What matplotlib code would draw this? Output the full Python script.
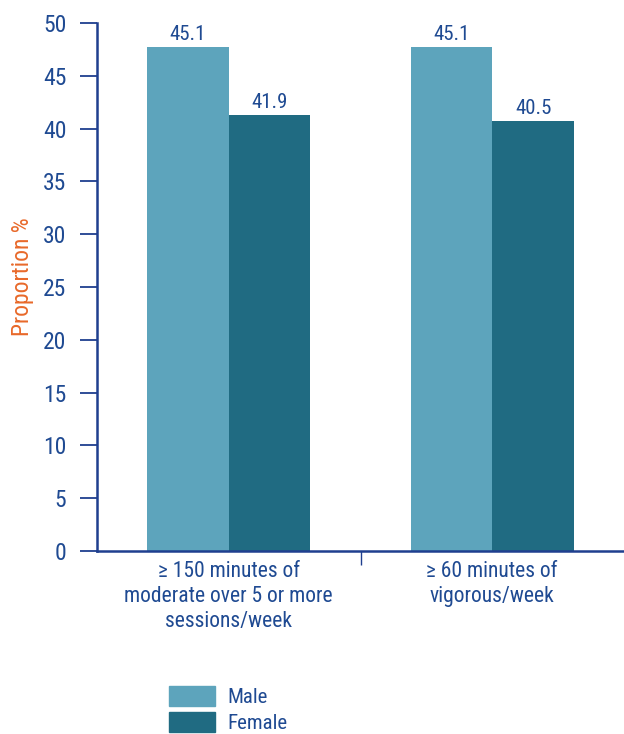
import numpy as np
import matplotlib
matplotlib.use("Agg")
import matplotlib.pyplot as plt
from matplotlib.patches import Patch

# data
categories = ["\u2265 150 minutes of\nmoderate over 5 or more\nsessions/week",
              "\u2265 60 minutes of\nvigorous/week"]
series = ["Male", "Female"]
male_height = [47.7, 47.7]      # bar heights as drawn
female_height = [41.3, 40.7]
male_labels = ["45.1", "45.1"]  # printed values
female_labels = ["41.9", "40.5"]
yticks = [0, 5, 10, 15, 20, 25, 30, 35, 40, 45, 50]

male_col = "#5DA4BC"
female_col = "#206B82"
text_col = "#1F4A92"
axis_col = "#1F3F8F"

plt.rcParams['font.family'] = ['Roboto Condensed', 'DejaVu Sans']

fig = plt.figure(figsize=(6.24, 7.34), dpi=100)
ax = fig.add_axes([97/624, 1 - 551/734, 1 - 97/624, 528/734])

x = np.arange(len(categories))
w = 0.31
b1 = ax.bar(x - w/2, male_height, w, color=male_col, linewidth=0)
b2 = ax.bar(x + w/2, female_height, w, color=female_col, linewidth=0)

for bars, labs in [(b1, male_labels), (b2, female_labels)]:
    for r, lab in zip(bars, labs):
        ax.text(r.get_x() + r.get_width()/2, r.get_height() + 0.3, lab,
                ha="center", va="bottom", fontsize=15, color=text_col)

ax.set_xlim(-0.5, 1.5)
ax.set_ylim(0, 50)
ax.set_yticks(yticks)
ax.set_xticks(x)
ax.set_xticklabels(categories, fontsize=15.5, color=text_col, linespacing=1.25)
ax.set_xticks([0.5], minor=True)

for s in ["top", "right"]:
    ax.spines[s].set_visible(False)
for s in ["left", "bottom"]:
    ax.spines[s].set_color(axis_col)
    ax.spines[s].set_linewidth(1.8)

ax.tick_params(axis="y", length=12, width=1.3, color=axis_col,
               labelsize=17, labelcolor=text_col, pad=10)
ax.tick_params(axis="x", which="major", length=0, pad=7)
ax.tick_params(axis="x", which="minor", length=10, width=1.0, color=axis_col)

ax.set_ylabel("Proportion %", fontsize=17, color="#E8692A")
ax.yaxis.set_label_coords(-0.12, 0.52)

handles = [Patch(color=male_col), Patch(color=female_col)]
fig.legend(handles, series, loc="upper left",
           bbox_to_anchor=(169/624, 1 - 686/734), frameon=False,
           fontsize=15, handlelength=2.2, handleheight=1.1,
           handletextpad=0.6, labelspacing=0.22, labelcolor=text_col,
           borderpad=0, borderaxespad=0)

fig.savefig("out.png", dpi=100)
